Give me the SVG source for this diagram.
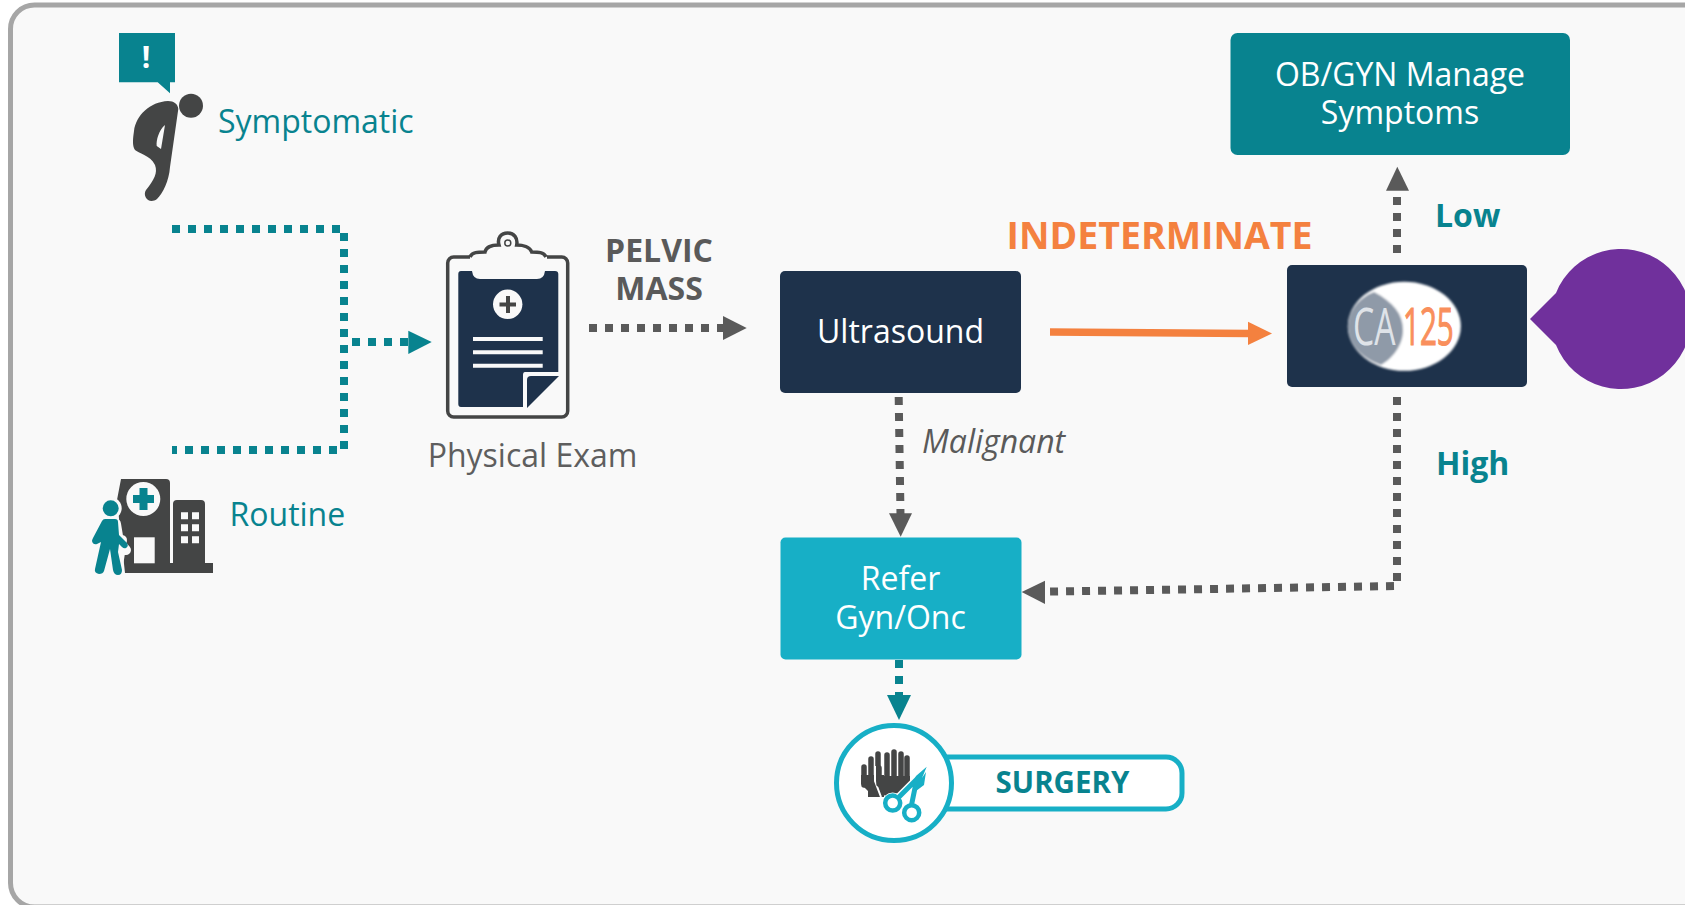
<svg xmlns="http://www.w3.org/2000/svg" width="1685" height="905" viewBox="0 0 1685 905">
<style>
text{font-family:"Open Sans","Noto Sans","DejaVu Sans",sans-serif}
.teal{fill:#08838f}.dark{fill:#444545}.navy{fill:#1e324b}
.lbl{font-size:32px;fill:#08838f}
.box{font-size:32px;fill:#fff;text-anchor:middle}
.dt{fill:none;stroke:#08838f;stroke-width:8;stroke-dasharray:8 8}
.dg{fill:none;stroke:#5a5a5a;stroke-width:8;stroke-dasharray:8 8}
.fg{fill:none;stroke:#444545;stroke-width:5.500;stroke-linecap:round}
</style>
<defs><filter id="b" x="-5%" y="-5%" width="110%" height="110%"><feGaussianBlur stdDeviation="0.800"/></filter></defs>
<rect width="1685" height="905" fill="#fff"/>
<rect x="10.500" y="5" width="1720" height="902" rx="24" fill="#f9f9f9" stroke="#a6a6a6" stroke-width="5"/>
<g id="connectors">
<path class="dt" d="M172 229H344V450H172"/>
<path class="dt" d="M352 342H410"/><path class="teal" d="M408.300 330.700L431.700 342L408.300 354Z"/>
<path class="dg" d="M589 328H725"/><path fill="#5a5a5a" d="M723 316L746.700 328L723 340Z"/>
<path fill="none" stroke="#f4813f" stroke-width="7.500" d="M1050 332L1250 333.500"/><path fill="#f4813f" d="M1248 321.700L1272 333.500L1248 345Z"/>
<path class="dg" d="M898.700 397L900.500 515"/><path fill="#5a5a5a" d="M889 513.300H912L900.700 536.700Z"/>
<path class="dg" d="M1397 253V190"/><path fill="#5a5a5a" d="M1386 190.700L1397.300 166.700L1409 190.700Z"/>
<path class="dg" d="M1397 397V586L1043 591.700"/><path fill="#5a5a5a" d="M1045 580.700L1021.700 592L1045 604Z"/>
<path class="dt" d="M899 660V696"/><path class="teal" d="M887 695H911L899 720Z"/>
</g>
<g id="symptomatic">
<path class="teal" d="M119 33H175V82.300H170V93.300L157.700 82.300H119Z"/>
<text x="146" y="68" font-size="30" font-weight="700" fill="#fff" text-anchor="middle">!</text>
<circle class="dark" cx="191" cy="105.700" r="12"/>
<path class="dark" fill-rule="evenodd" d="M168 101C174 101 178 104 178.300 109L170 167C169 181 163 193 157 199C149 205 142 196 146 190C154 180 158 173 155 165C150 155 138 153 135 150C132 146 133 138 134 131C136 115 150 102 168 101ZM165 125C159 130 156 140 156.700 146L161 149Z"/>
<text class="lbl" x="218" y="132.500">Symptomatic</text>
</g>
<g id="routine">
<path class="dark" d="M121 479H166Q170 479 170 483V563H173V504Q173 500 177 500H201Q205 500 205 504V563H213V573H125L117 500Z"/>
<circle cx="143.300" cy="499" r="17" fill="#f9f9f9"/>
<path class="teal" d="M139.500 488H147.500V495H154V503H147.500V510H139.500V503H133V495H139.500Z"/>
<rect x="134" y="537.300" width="20.700" height="26" fill="#f9f9f9"/>
<path fill="#f9f9f9" d="M181 512.300h7v7h-7zM192 512.300h7v7h-7zM181 524.300h7v7h-7zM192 524.300h7v7h-7zM181 536.300h7v7h-7zM192 536.300h7v7h-7z"/>
<circle cx="110.700" cy="508.300" r="11" fill="#f9f9f9"/>
<path fill="none" stroke="#f9f9f9" stroke-width="10" stroke-linejoin="round" stroke-linecap="round" d="M106 524H116L119 542L126 550M122 540L117 572"/>
<circle class="teal" cx="110.700" cy="508.300" r="8"/>
<path class="teal" d="M105 519H115Q118 519 118 522L119 535L127 543Q129 546 126 548Q124 549 122 547L119 544L118 552L122 570Q122 575 118 575Q114 575 113 570L110 549L104 571Q103 574 99 574Q94 573 95 569L101 542L97 544Q93 545 92 541Q92 540 93 538L102 521Q103 519 105 519Z"/>
<text class="lbl" x="229.500" y="525.500">Routine</text>
</g>
<g id="exam">
<rect x="447.700" y="257" width="120" height="160" rx="6" fill="none" stroke="#444545" stroke-width="3.500"/>
<path fill="#f9f9f9" d="M470 253H547V265H470Z"/>
<path fill="#f9f9f9" stroke="#444545" stroke-width="3.500" d="M470 257C472 252 478 252 485 252C486 247 492 245 499 245C497 238 501 233 507.700 233C514 233 518 238 516.700 245C523 245 530 247 531.700 252C538 252 544 252 546 257"/>
<circle cx="507.800" cy="243" r="3" fill="none" stroke="#444545" stroke-width="1.500"/>
<path class="navy" d="M461 271H472Q473 279 480 279H537Q544 279 545 271H555Q558.300 271 558.300 274V372H525Q523 372 523 375V407H461Q458.300 407 458.300 404V274Q458.300 271 461 271Z"/>
<circle cx="507.700" cy="304.300" r="14.700" fill="#f9f9f9"/>
<path class="dark" d="M506 296H510V302.500H516V306.500H510V313H506V306.500H499.500V302.500H506Z"/>
<path fill="#f9f9f9" d="M473 337H542.700V341H473ZM473 350.300H542.700V354.300H473ZM473 363.700H542.700V367.700H473Z"/>
<path class="navy" d="M559 376L527 408V380Q527 376 531 376Z"/>
<text x="532.500" y="467" font-size="32" fill="#5e5e5e" text-anchor="middle">Physical Exam</text>
</g>
<text x="659" y="262" font-size="32" font-weight="700" fill="#5a5a5a" text-anchor="middle">PELVIC</text>
<text x="659" y="300" font-size="32" font-weight="700" fill="#5a5a5a" text-anchor="middle">MASS</text>
<g id="ultrasound">
<rect class="navy" x="780" y="271" width="241" height="122" rx="5"/>
<text class="box" x="900.500" y="343">Ultrasound</text>
</g>
<text x="922" y="453" font-size="32" font-style="italic" fill="#5a5a5a">Malignant</text>
<g id="referral">
<rect x="780.500" y="537.500" width="241" height="122" rx="5" fill="#17afc6"/>
<text class="box" x="900.500" y="590">Refer</text>
<text class="box" x="900.500" y="629">Gyn/Onc</text>
</g>
<g id="surgery">
<rect x="880" y="757" width="302" height="52" rx="16" fill="#fff" stroke="#17afc6" stroke-width="5"/>
<circle cx="894" cy="783" r="57.500" fill="#fff" stroke="#17afc6" stroke-width="5"/>
<text x="1062.500" y="793" font-size="29.500" font-weight="700" fill="#08838f" text-anchor="middle">SURGERY</text>
<path class="fg" d="M864 767V785M871 759V780M878 754V775"/>
<path class="dark" d="M861 775H884V797H868V791L861 784Z"/>
<path fill="none" stroke="#fff" stroke-width="2" d="M875 766V781L881 797"/>
<path class="fg" d="M879 768V784M887 755V780M894 752V780M901 754V780M907 758V782"/>
<path class="dark" d="M876 776H910V784L900 796H885L880 790Z"/>
<circle cx="892.700" cy="803" r="10.500" fill="#fff"/>
<circle cx="892.700" cy="803" r="7.500" fill="#fff" stroke="#17afc6" stroke-width="4.500"/>
<circle cx="911.700" cy="812.700" r="7.500" fill="#fff" stroke="#17afc6" stroke-width="4.500"/>
<path fill="none" stroke="#fff" stroke-width="8" d="M899 797L920 776"/>
<path fill="none" stroke="#17afc6" stroke-width="5" d="M898 798L918 778M911.500 805L916 783"/>
<path fill="#17afc6" d="M913 785L916 776L926.700 766.700L922 778L926 772L924 785L916 791Z"/>
</g>
<g id="ca125">
<rect class="navy" x="1287" y="265" width="240" height="122" rx="5"/>
<g filter="url(#b)">
<ellipse cx="1404.300" cy="326.300" rx="56.500" ry="44.500" fill="#fff"/>
<path fill="#8f9aa8" d="M1374 292C1393 302 1403 314 1403 330C1403 345 1393 358 1381 365C1360 358 1348 343 1348 326C1348 312 1358 298 1374 292Z"/>
</g>
<text x="1353" y="345" font-size="51" fill="#dfe3e8" font-family="Liberation Sans" transform="translate(1353 0) scale(.66 1) translate(-1353 0)">CA</text>
<text x="1403" y="345" font-size="51" fill="#f98f5c" stroke="#f98f5c" stroke-width="1.200" font-family="Liberation Sans" transform="translate(1403 0) scale(.58 1) translate(-1403 0)">125</text>
</g>
<g id="obgyn">
<rect class="teal" x="1230.500" y="33" width="339.500" height="122" rx="7"/>
<text class="box" x="1400" y="86">OB/GYN Manage</text>
<text class="box" x="1400" y="124">Symptoms</text>
</g>
<path id="bubble" fill="#70309c" d="M1530 319L1556 293A70 70 0 1 1 1556 345Z"/>
<text x="1006.500" y="249" font-size="37.500" font-weight="700" fill="#f4813f">INDETERMINATE</text>
<text x="1435" y="227" font-size="32" font-weight="700" fill="#08838f">Low</text>
<text x="1436" y="475" font-size="32" font-weight="700" fill="#08838f">High</text>
</svg>
